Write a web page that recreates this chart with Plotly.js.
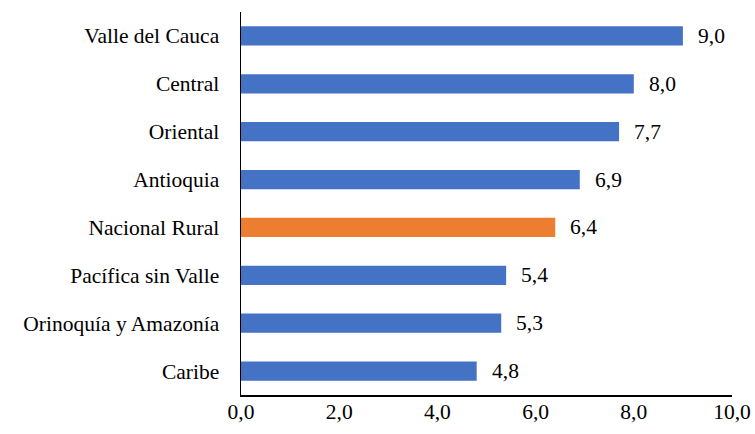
<!DOCTYPE html>
<html>
<head>
<meta charset="utf-8">
<script src="https://cdn.plot.ly/plotly-3.0.1.min.js"></script>
<style>
  html, body { margin: 0; padding: 0; background: #fff; }
  #chart { width: 755px; height: 434px; }
</style>
</head>
<body>
<div id="chart"></div>
<script>
// Regions, bottom to top as drawn
const regions = ["Caribe", "Orinoquía y Amazonía", "Pacífica sin Valle", "Nacional Rural",
                 "Antioquia", "Oriental", "Central", "Valle del Cauca"];
const values = [4.8, 5.3, 5.4, 6.4, 6.9, 7.7, 8.0, 9.0];
const highlight = "Nacional Rural";
const xTicks = [0, 2, 4, 6, 8, 10];

const BLUE = "#4472C4", ORANGE = "#ED7D31";
const FONT = "Liberation Serif, serif";
const FS = 21.5;

// value labels sit a little past the bar end
const labels = regions.map((r, i) => ({
  x: values[i], y: r, xref: "x", yref: "y",
  text: values[i].toFixed(1).replace(".", ","),
  showarrow: false, xanchor: "left", xshift: 13,
  font: { family: FONT, size: FS, color: "#000" },
}));

Plotly.newPlot("chart", [{
  type: "bar", orientation: "h",
  y: regions, x: values,
  marker: { color: regions.map(r => r === highlight ? ORANGE : BLUE) },
  hoverinfo: "skip",
}], {
  width: 755, height: 434,
  margin: { l: 241, r: 23, t: 12, b: 39 },
  paper_bgcolor: "#fff", plot_bgcolor: "#fff",
  font: { family: FONT, size: FS, color: "#000" },
  separators: ",.",
  bargap: 0.6,
  showlegend: false,
  annotations: labels,
  xaxis: {
    range: [0, 10], tickvals: xTicks, tickformat: ".1f",
    showgrid: false, zeroline: false,
    showline: true, linecolor: "#000", linewidth: 1.5,
    ticks: "", ticklen: 0, ticklabelstandoff: -3,
    tickfont: { family: FONT, size: FS },
  },
  yaxis: {
    showgrid: false, zeroline: false,
    showline: true, linecolor: "#000", linewidth: 1.5,
    ticks: "", ticklabelstandoff: 16,
    tickfont: { family: FONT, size: FS },
  },
}, { displayModeBar: false, staticPlot: true });
</script>
</body>
</html>
